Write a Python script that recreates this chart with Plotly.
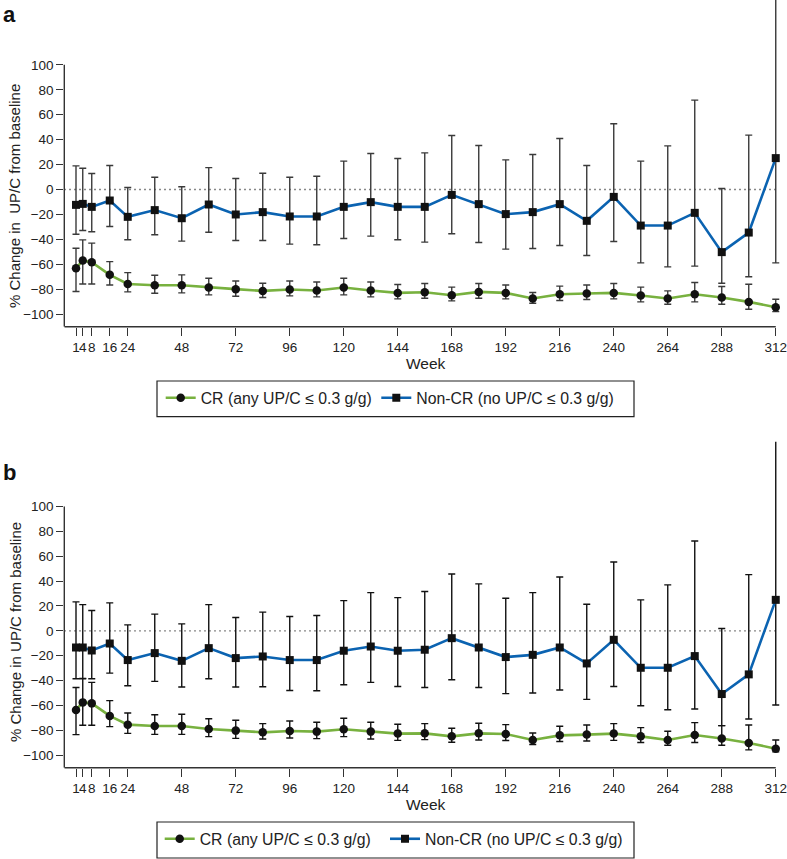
import plotly.graph_objects as go

weeks = [1, 4, 8, 16, 24, 36, 48, 60, 72, 84, 96, 108, 120, 132, 144, 156, 168,
         180, 192, 204, 216, 228, 240, 252, 264, 276, 288, 300, 312]

# Panel a
a_cr = [-63.1, -57.0, -58.3, -68.4, -75.7, -76.7, -76.7, -78.6, -79.9, -81.3, -80.2, -81.0, -78.6,
        -81.0, -82.9, -82.4, -84.8, -82.1, -82.9, -87.4, -84.0, -83.4, -82.9, -85.0, -87.4, -84.0,
        -86.6, -90.1, -94.4]
a_cr_hi = [-47.1, -40.4, -43.0, -57.8, -66.6, -68.7, -68.4, -71.1, -73.3, -75.1, -73.3, -74.1, -71.1,
           -74.1, -76.2, -75.4, -78.3, -75.4, -76.5, -82.6, -77.5, -76.5, -75.4, -78.3, -81.3, -74.6,
           -77.8, -75.9, -88.0]
a_cr_lo = [-81.8, -75.7, -75.7, -76.5, -82.1, -83.2, -82.9, -84.5, -85.6, -86.6, -85.3, -86.1, -84.5,
           -86.1, -87.7, -87.2, -89.3, -87.2, -87.7, -91.2, -89.0, -88.2, -87.7, -90.1, -92.0, -90.1,
           -92.0, -96.0, -97.9]
a_ncr = [-12.3, -11.5, -13.9, -8.8, -21.9, -16.5, -23.0, -12.0, -20.0, -18.1, -21.6, -21.6, -13.9,
         -10.1, -13.9, -13.9, -4.3, -11.7, -19.7, -18.1, -11.7, -25.1, -5.9, -28.9, -28.9, -18.7,
         -50.2, -34.5, 25.2]
a_ncr_hi = [19.0, 17.1, 12.8, 19.3, 1.6, 9.9, 2.2, 17.6, 8.8, 13.1, 9.9, 10.7, 22.8, 28.9, 24.9, 29.4,
            43.3, 35.3, 23.8, 28.1, 40.9, 19.3, 52.7, 22.8, 35.0, 71.7, 0.8, 43.6, 175.0]
a_ncr_lo = [-35.8, -32.9, -33.9, -29.7, -40.3, -36.3, -41.4, -34.2, -40.9, -40.9, -43.8, -44.3, -39.3,
            -37.4, -40.3, -42.2, -35.5, -42.5, -47.8, -47.3, -44.9, -52.9, -41.7, -58.8, -62.0, -61.4,
            -75.1, -70.0, -58.8]

# Panel b
b_cr = [-63.6, -57.5, -58.3, -68.4, -75.4, -76.5, -76.5, -78.9, -80.2, -81.6, -80.5, -81.0, -79.1,
        -81.0, -82.6, -82.4, -84.8, -82.4, -82.9, -87.7, -84.0, -83.4, -82.6, -84.8, -87.7, -83.7,
        -86.6, -90.1, -94.7]
b_cr_hi = [-45.5, -38.2, -41.4, -56.1, -66.0, -67.4, -67.1, -70.6, -71.9, -74.6, -72.5, -73.5, -70.3,
           -73.5, -75.1, -74.6, -78.3, -74.3, -75.4, -82.1, -76.7, -75.7, -74.6, -77.8, -80.7, -73.8,
           -76.2, -75.7, -87.7]
b_cr_lo = [-83.4, -75.9, -75.9, -77.0, -82.4, -83.2, -83.2, -85.0, -86.4, -86.9, -86.1, -86.6, -85.0,
           -86.9, -88.0, -87.4, -89.6, -87.7, -88.2, -91.4, -89.0, -88.5, -88.0, -89.8, -92.0, -89.8,
           -92.0, -95.7, -97.3]
b_ncr = [-13.4, -13.4, -15.8, -10.2, -23.5, -17.9, -24.1, -13.9, -21.9, -20.6, -23.5, -23.5, -16.0,
         -12.6, -16.0, -15.2, -5.9, -13.4, -21.1, -19.3, -13.4, -26.2, -7.2, -29.7, -29.7, -20.3,
         -50.8, -35.0, 24.9]
b_ncr_hi = [23.3, 21.1, 16.3, 22.5, 4.8, 13.4, 5.6, 21.1, 10.7, 15.0, 11.5, 12.3, 24.3, 30.7, 26.7,
            31.6, 45.7, 37.7, 26.2, 30.7, 43.3, 21.4, 55.3, 24.9, 36.9, 72.2, 1.9, 45.2, 175.0]
b_ncr_lo = [-38.5, -38.5, -38.5, -34.0, -44.1, -40.6, -45.2, -38.5, -45.2, -44.9, -47.9, -48.1, -43.3,
            -41.4, -44.7, -45.5, -39.3, -45.5, -50.5, -50.0, -47.6, -55.1, -44.7, -60.2, -63.4, -62.8,
            -76.2, -70.9, -59.6]

x_ticks = [1, 4, 8, 16, 24, 48, 72, 96, 120, 144, 168, 192, 216, 240, 264, 288, 312]
y_ticks = [-100, -80, -60, -40, -20, 0, 20, 40, 60, 80, 100]
legend_cr = "CR (any UP/C ≤ 0.3 g/g)"
legend_ncr = "Non-CR (no UP/C ≤ 0.3 g/g)"

GREEN = "#78b13f"
BLUE = "#0b63b1"
AX = "#333333"
FONT = "Liberation Sans, Arial, sans-serif"
W, H = 787, 859


def err(vals, hi, lo):
    return ([h - v for h, v in zip(hi, vals)], [v - l for v, l in zip(vals, lo)])


fig = go.Figure()

panels = [
    ("x", "y", a_cr, a_cr_hi, a_cr_lo, a_ncr, a_ncr_hi, a_ncr_lo, "legend", "legend2", "#3a3a3a"),
    ("x2", "y2", b_cr, b_cr_hi, b_cr_lo, b_ncr, b_ncr_hi, b_ncr_lo, "legend3", "legend4", "#111111"),
]
for xa, ya, cr, crh, crl, ncr, ncrh, ncrl, leg1, leg2, ecol in panels:
    up, dn = err(cr, crh, crl)
    fig.add_trace(go.Scatter(
        x=weeks, y=cr, xaxis=xa, yaxis=ya, mode="lines+markers", name=legend_cr, legend=leg1,
        line=dict(color=GREEN, width=2.6),
        marker=dict(symbol="circle", size=8.5, color="#111111"),
        error_y=dict(type="data", symmetric=False, array=up, arrayminus=dn,
                     color=ecol, thickness=1.4, width=3.5),
        cliponaxis=False,
    ))
    up, dn = err(ncr, ncrh, ncrl)
    fig.add_trace(go.Scatter(
        x=weeks, y=ncr, xaxis=xa, yaxis=ya, mode="lines+markers", name=legend_ncr, legend=leg2,
        line=dict(color=BLUE, width=2.6),
        marker=dict(symbol="square", size=8, color="#111111"),
        error_y=dict(type="data", symmetric=False, array=up, arrayminus=dn,
                     color=ecol, thickness=1.4, width=3.5),
        cliponaxis=False,
    ))

x0 = 64.3 / W
xrange = [-4.2, 317]
yrange = [-110, 152]
dom_a = [(H - 326.7) / H, 1.0]
dom_b = [(H - 767.7) / H, (H - 441.7) / H]

xcommon = dict(range=xrange, domain=[x0, 1.0], tickmode="array", tickvals=x_ticks,
               ticktext=[str(t) for t in x_ticks], ticks="outside", ticklen=8, tickwidth=1.3,
               tickcolor=AX, showgrid=False, zeroline=False, showline=False, tickangle=0,
               automargin=False, ticklabeloverflow="allow",
               tickfont=dict(family=FONT, size=13.5, color="#222222"),
               title=dict(text="Week", font=dict(family=FONT, size=15.5, color="#222222"), standoff=0))
ycommon = dict(range=yrange, tickmode="array", tickvals=y_ticks, ticks="outside", ticklen=7,
               tickwidth=1.3, tickcolor=AX, showgrid=False, zeroline=False, showline=False,
               automargin=False,
               tickfont=dict(family=FONT, size=13.5, color="#222222"))

fig.update_layout(
    xaxis=dict(anchor="y", **xcommon),
    yaxis=dict(anchor="x", domain=dom_a, **ycommon),
    xaxis2=dict(anchor="y2", **xcommon),
    yaxis2=dict(anchor="x2", domain=dom_b, **ycommon),
)

shapes = []
for xa, ya in [("x", "y"), ("x2", "y2")]:
    shapes.append(dict(type="line", xref=xa + " domain", x0=0, x1=0, yref=ya, y0=-110, y1=100,
                       line=dict(color=AX, width=1.4)))
    shapes.append(dict(type="line", xref=xa, x0=xrange[0], x1=312, yref=ya + " domain", y0=0, y1=0,
                       line=dict(color=AX, width=1.4)))
    shapes.append(dict(type="line", xref=xa, x0=xrange[0], x1=312, yref=ya, y0=0, y1=0,
                       line=dict(color="#555555", width=1.4, dash="1.4px,3.6px"), layer="below"))
# legend frames
for top, bot in [(381, 416.7), (822, 858)]:
    shapes.append(dict(type="rect", xref="paper", yref="paper", x0=157 / W, x1=634 / W,
                       y0=1 - bot / H, y1=1 - top / H, line=dict(color="#222222", width=1.2),
                       fillcolor="rgba(0,0,0,0)"))
fig.update_layout(shapes=shapes)

ann = []
ann.append(dict(text="<b>a</b>", xref="paper", yref="paper", x=1 / W, y=1 - 15 / H,
                xanchor="left", yanchor="middle", showarrow=False,
                font=dict(family=FONT, size=22, color="#111111")))
ann.append(dict(text="<b>b</b>", xref="paper", yref="paper", x=1 / W, y=1 - 472 / H,
                xanchor="left", yanchor="middle", showarrow=False,
                font=dict(family=FONT, size=22, color="#111111")))
ann.append(dict(text="% Change in \u00a0UP/C from baseline", xref="paper", yref="paper",
                x=15 / W, y=1 - 196 / H, textangle=-90, xanchor="center", yanchor="middle",
                showarrow=False, font=dict(family=FONT, size=15, color="#222222")))
ann.append(dict(text="% Change in UP/C from baseline", xref="paper", yref="paper",
                x=15 / W, y=1 - 632 / H, textangle=-90, xanchor="center", yanchor="middle",
                showarrow=False, font=dict(family=FONT, size=15, color="#222222")))
fig.update_layout(annotations=ann)

legcommon = dict(orientation="h", xref="paper", yref="paper", xanchor="left", yanchor="top",
                 borderwidth=0, bgcolor="rgba(0,0,0,0)",
                 font=dict(family=FONT, size=15.8, color="#222222"), itemwidth=30)
TXT_OFF = 42
fig.update_layout(
    legend=dict(x=(202.7 - TXT_OFF) / W, y=1 - 381 / H, **legcommon),
    legend2=dict(x=(418.3 - TXT_OFF) / W, y=1 - 381 / H, **legcommon),
    legend3=dict(x=(201.7 - TXT_OFF) / W, y=1 - 822 / H, **legcommon),
    legend4=dict(x=(427 - TXT_OFF) / W, y=1 - 822 / H, **legcommon),
)

fig.update_layout(
    width=W, height=H, margin=dict(l=0, r=0, t=0, b=0),
    paper_bgcolor="white", plot_bgcolor="white", showlegend=True,
    font=dict(family=FONT),
)

fig.write_html("out.html", config={"displayModeBar": False},
               post_script="document.body.style.margin='0';document.body.style.padding='0';")
